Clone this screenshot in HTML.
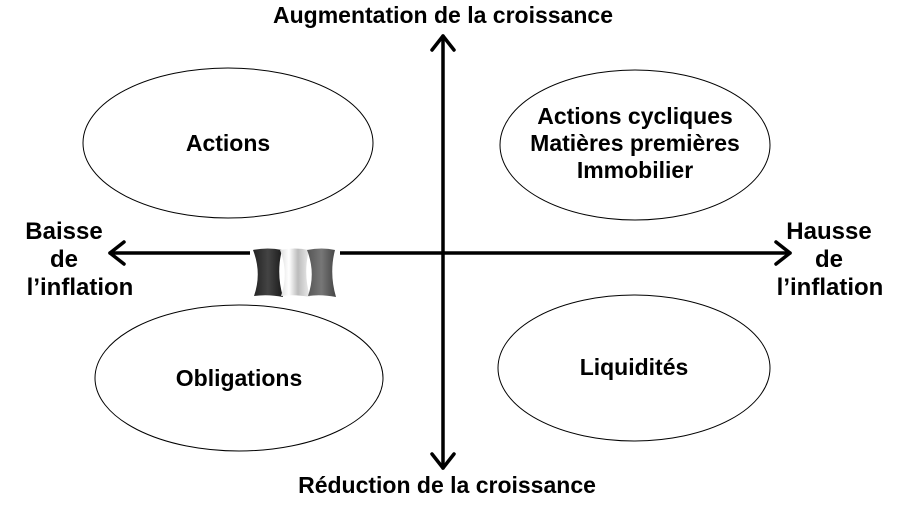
<!DOCTYPE html>
<html><head><style>
body{margin:0;background:#fff;}
svg text{font-family:"Liberation Sans",Arial,sans-serif;font-weight:bold;font-size:23px;fill:#000;}
svg text.s{font-size:24px;}
</style></head><body>
<svg width="900" height="500" viewBox="0 0 900 500" xmlns="http://www.w3.org/2000/svg">
<defs>
<linearGradient id="g1" x1="0" x2="1"><stop offset="0" stop-color="#222"/><stop offset=".5" stop-color="#444"/><stop offset="1" stop-color="#1a1a1a"/></linearGradient>
<linearGradient id="g2" x1="0" x2="1"><stop offset="0" stop-color="#ddd"/><stop offset=".3" stop-color="#fff"/><stop offset=".6" stop-color="#bbb"/><stop offset="1" stop-color="#eee"/></linearGradient>
<linearGradient id="g3" x1="0" x2="1"><stop offset="0" stop-color="#555"/><stop offset=".5" stop-color="#777"/><stop offset="1" stop-color="#444"/></linearGradient>
</defs>
<g fill="none" stroke="#000" stroke-width="1">
<ellipse cx="228" cy="143" rx="145" ry="75"/>
<ellipse cx="635" cy="145" rx="135" ry="75"/>
<ellipse cx="239" cy="378" rx="144" ry="73"/>
<ellipse cx="634" cy="368" rx="136" ry="73"/>
</g>
<g stroke="#000" stroke-width="3.5" fill="none" stroke-linecap="round" stroke-linejoin="round">
<line x1="443" y1="36" x2="443" y2="468"/>
<line x1="110" y1="253" x2="790" y2="253"/>
<polyline points="432,50 443,36 454,50"/>
<polyline points="432,454 443,468 454,454"/>
<polyline points="124,242 110,253 124,264"/>
<polyline points="776,242 790,253 776,264"/>
</g>
<rect x="250" y="245" width="90" height="54" fill="#fff"/>
<path d="M253,250 Q268,247 282,250 Q276,273 283,297 Q268,294 254,296 Q262,273 253,250Z" fill="url(#g1)"/>
<path d="M280,250 Q295,247 309,250 Q303,273 310,297 Q295,294 281,296 Q289,273 280,250Z" fill="url(#g2)"/>
<path d="M307,250 Q322,247 335,250 Q329,273 336,297 Q321,294 308,296 Q316,273 307,250Z" fill="url(#g3)"/>
<text x="443" y="23" text-anchor="middle">Augmentation de la croissance</text>
<text x="447" y="493" text-anchor="middle">Réduction de la croissance</text>
<text x="228" y="151" text-anchor="middle">Actions</text>
<text x="635" y="124" text-anchor="middle">Actions cycliques</text>
<text x="635" y="151" text-anchor="middle">Matières premières</text>
<text x="635" y="178" text-anchor="middle">Immobilier</text>
<text x="239" y="386" text-anchor="middle">Obligations</text>
<text x="634" y="375" text-anchor="middle">Liquidités</text>
<text class="s" x="64" y="239" text-anchor="middle">Baisse</text>
<text class="s" x="64" y="267" text-anchor="middle">de</text>
<text class="s" x="80" y="295" text-anchor="middle">l’inflation</text>
<text class="s" x="829" y="239" text-anchor="middle">Hausse</text>
<text class="s" x="829" y="267" text-anchor="middle">de</text>
<text class="s" x="830" y="295" text-anchor="middle">l’inflation</text>
</svg>
</body></html>
